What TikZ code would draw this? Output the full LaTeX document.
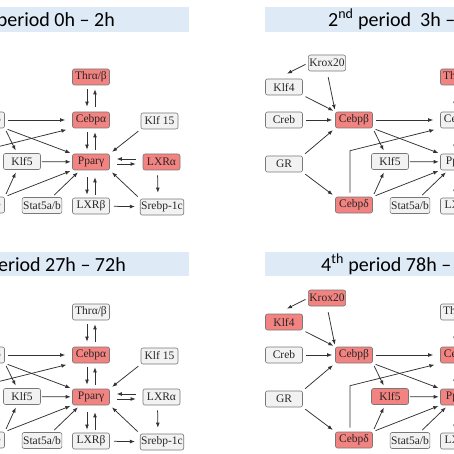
\documentclass[tikz,border=0pt]{standalone}
\usepackage{fontspec}
\setmainfont{Liberation Serif}
\newfontfamily\titlefont{Carlito}
\usetikzlibrary{arrows.meta,calc}

\definecolor{hotred}{RGB}{242,131,128}
\definecolor{coolgray}{RGB}{242,242,242}
\definecolor{boxline}{RGB}{120,120,120}
\definecolor{barblue}{RGB}{222,234,246}
\definecolor{arrowgray}{RGB}{50,50,50}

\tikzset{
  gene/.style={draw=boxline, fill=coolgray, rounded corners=2pt, line width=0.6pt,
    minimum width=37pt, minimum height=16pt, inner sep=1pt,
    font=\fontsize{11.5}{11.5}\selectfont, text=black!85},
  hot/.style={fill=hotred},
  arr/.style={draw=arrowgray, line width=0.75pt, -{Latex[length=5pt,width=3.8pt]},
    shorten <=3pt, shorten >=3pt},
  bar/.style={fill=barblue},
  titletext/.style={font=\titlefont\fontsize{20}{20}\selectfont, inner sep=0pt},
  gkrox/.style={}, gklff/.style={}, gcreb/.style={}, ggr/.style={},
  gcebpb/.style={}, gcebpd/.style={}, gklf5/.style={}, gstat/.style={},
  gthr/.style={}, gcebpa/.style={}, gppar/.style={}, glxrb/.style={},
  gklf15/.style={}, glxra/.style={}, gsrebp/.style={}
}

% the gene network of one period
\newcommand\network{%
  \node[gene,gkrox]  (krox)  at (-41,63)    {Krox20};
  \node[gene,gklff]  (klf4)  at (-84,87)    {Klf4};
  \node[gene,gcreb]  (creb)  at (-84,120)   {Creb};
  \node[gene,ggr]    (gr)    at (-84,164)   {GR};
  \node[gene,gcebpb] (cebpb) at (-14,120)   {Cebpβ};
  \node[gene,gcebpd] (cebpd) at (-14,205)   {Cebpδ};
  \node[gene,gklf5]  (klf5)  at (22,161.5)  {Klf5};
  \node[gene,gstat]  (stat)  at (42,205.5)  {Stat5a/b};
  \node[gene,gthr]   (thr)   at (91,77)     {Thrα/β};
  \node[gene,gcebpa] (cebpa) at (91,120)    {Cebpα};
  \node[gene,gppar]  (ppar)  at (91,162)    {Pparγ};
  \node[gene,glxrb]  (lxrb)  at (91,206)    {LXRβ};
  \node[gene,gklf15] (klf15) at (159.5,121) {Klf 15};
  \node[gene,glxra]  (lxra)  at (161.5,162) {LXRα};
  \node[gene,gsrebp] (srebp) at (162,207)   {Srebp-1c};
  % upstream of Cebpb / Cebpd
  \draw[arr, shorten >=0pt] (krox.west) -- ($(klf4.north)+(3,-5)$);
  \draw[arr, shorten <=6pt, shorten >=2pt] (krox.south) -- (cebpb.north west);
  \draw[arr, shorten >=2pt] (klf4.south east) -- (cebpb.north west);
  \draw[arr] (creb) -- (cebpb);
  \draw[arr] (gr.north east) -- (cebpb.south west);
  \draw[arr] (gr.south east) -- (cebpd.north west);
  % Cebpb / Cebpd / Klf5 to the adipogenic core
  \draw[arr, shorten >=7pt] (cebpb) -- (cebpa);
  \draw[arr] (cebpb.south east) -- ([xshift=-5pt]klf5.north);
  \draw[arr, shorten >=2pt] (cebpb.south east) -- (ppar.north west);
  \draw[arr, shorten <=4pt, shorten >=6pt] ([xshift=-4pt]cebpd.north) -- ++(0,-46) -- (cebpa.south west);
  \draw[arr] (cebpd.north east) -- ([xshift=-5pt]klf5.south);
  \draw[arr, shorten >=2pt] (cebpd.north east) -- (ppar.south west);
  \draw[arr, shorten <=1pt, shorten >=1.5pt] (klf5) -- (ppar);
  \draw[arr] ([xshift=10pt]stat.north) -- ([xshift=-11pt]ppar.south);
  % feedback pairs
  \draw[arr, shorten <=4pt, shorten >=5pt] ([xshift=-4pt]thr.south) -- ([xshift=-4pt]cebpa.north);
  \draw[arr, shorten <=5pt, shorten >=4pt] ([xshift=4pt]cebpa.north) -- ([xshift=4pt]thr.south);
  \draw[arr, shorten <=4pt, shorten >=4pt] ([xshift=-4pt]cebpa.south) -- ([xshift=-4pt]ppar.north);
  \draw[arr, shorten <=4pt, shorten >=4pt] ([xshift=4pt]ppar.north) -- ([xshift=4pt]cebpa.south);
  \draw[arr, shorten <=7pt, shorten >=3pt] ([xshift=-4pt]ppar.south) -- ([xshift=-4pt]lxrb.north);
  \draw[arr, shorten <=3pt, shorten >=7pt] ([xshift=4pt]lxrb.north) -- ([xshift=4pt]ppar.south);
  \draw[arr, shorten <=7pt, shorten >=7pt] ([yshift=3pt]lxra.west) -- ([yshift=3pt]ppar.east);
  \draw[arr, shorten <=7pt, shorten >=7pt] ([yshift=-2pt]ppar.east) -- ([yshift=-2pt]lxra.west);
  % right side
  \draw[arr] (klf15.south west) -- (ppar.north east);
  \draw[arr, shorten <=5pt, shorten >=6pt] ([xshift=-4pt]lxra.south) -- ([xshift=-4pt]srebp.north);
  \draw[arr, shorten <=4pt, shorten >=5pt] (lxrb) -- (srebp);
  \draw[arr] (srebp.north west) -- (ppar.south east);
}

\begin{document}
\begin{tikzpicture}[x=1pt, y=-1pt]
  \useasboundingbox (0,0) rectangle (454,454);
  \clip (0,0) rectangle (454,454);
  \fill[white] (0,0) rectangle (454,454);

  % period titles
  \fill[bar] (-103,7) rectangle (189,32);
  \fill[bar] (265,7) rectangle (557,32);
  \fill[bar] (-103,252) rectangle (189,276);
  \fill[bar] (265,252) rectangle (557,276);
  \node[titletext, anchor=base east] (t1) at (115,26.5) {1\textsuperscript{st} period 0h – 2h};
  \node[titletext, anchor=base west] (t2) at (-40+368,26.5) {2\textsuperscript{nd} period\ \ 3h – 24h};
  \node[titletext, anchor=base east] (t3) at (126,271) {3\textsuperscript{rd} period 27h – 72h};
  \node[titletext, anchor=base west] (t4) at (-47+368,271) {4\textsuperscript{th} period 78h – 96h};

  % 1st period
  \begin{scope}[name prefix=pa-, gthr/.style=hot, gcebpa/.style=hot, gppar/.style=hot, glxra/.style=hot]
    \network
  \end{scope}
  % 2nd period
  \begin{scope}[shift={(368,0)}, name prefix=pb-, gcebpb/.style=hot, gcebpd/.style=hot, gthr/.style=hot]
    \network
  \end{scope}
  % 3rd period
  \begin{scope}[shift={(0,235)}, name prefix=pc-, gcebpa/.style=hot, gppar/.style=hot]
    \network
  \end{scope}
  % 4th period
  \begin{scope}[shift={(368,235)}, name prefix=pd-, gkrox/.style=hot, gklff/.style=hot,
      gcebpb/.style=hot, gklf5/.style=hot, gcebpd/.style=hot, gcebpa/.style=hot, gppar/.style=hot]
    \network
  \end{scope}
\end{tikzpicture}
\end{document}
